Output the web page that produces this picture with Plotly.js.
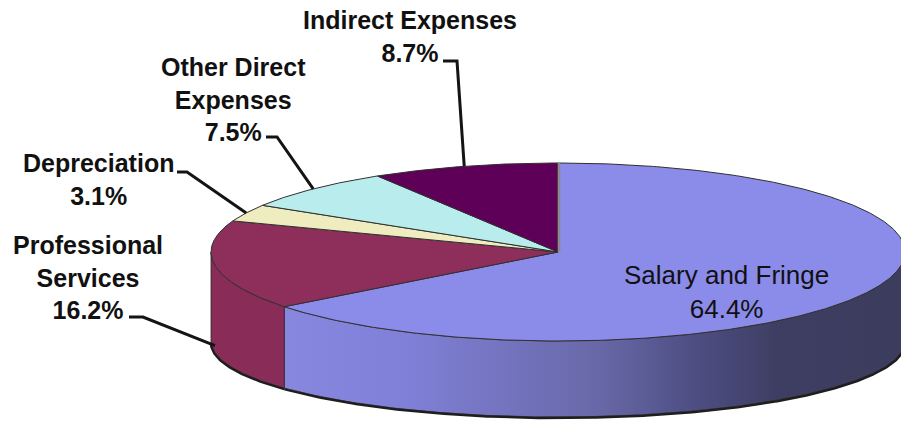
<!DOCTYPE html>
<html><head><meta charset="utf-8">
<script src="https://cdn.plot.ly/plotly-3.0.1.min.js"></script>
<style>html,body{margin:0;padding:0;background:#fff;}#chart{width:901px;height:421px;}</style>
</head><body><div id="chart"></div>
<script>
// ---- data ----
const categories = ['Salary and Fringe','Professional Services','Depreciation','Other Direct Expenses','Indirect Expenses'];
const shares = [64.4, 16.2, 3.1, 7.5, 8.7];
const labelLines = ['Salary and Fringe','Professional<br>Services','Depreciation','Other Direct<br>Expenses','Indirect Expenses'];

// ---- styles ----
const topColors = ['#8b8be9','#8e2e5b','#efedbf','#b9ecec','#5e0058'];
const wallColors = ['#8787e0','#8a2c58','#e6e4b6','#b0e2e2','#560052'];

// ---- geometry (pixel-mapped axes) ----
const cx = 558, cy = 252, rx = 347, ry = 89, depth = 90, ryB = 75;
function topPt(t){ const r = t*Math.PI/180; return [cx + rx*Math.sin(r), cy - ry*Math.cos(r)]; }
function botPt(t){ const r = t*Math.PI/180; return [cx + rx*Math.sin(r), cy + depth - ryB*Math.cos(r)]; }
function arc(a, b, fn){ const n = Math.max(2, Math.ceil(Math.abs(b-a)/0.5)); const pts=[]; for(let i=0;i<=n;i++){ pts.push(fn(a + (b-a)*i/n)); } return pts; }

const total = shares.reduce((s,v)=>s+v,0);
const starts = [], ends = [];
let acc = 0;
shares.forEach(v=>{ starts.push(acc/total*360); acc += v; ends.push(acc/total*360); });

const traces = [];
// side walls (front half only: 90..270 deg)
shares.forEach((v,i)=>{
  const a = Math.max(starts[i], 90), b = Math.min(ends[i], 270);
  if (b <= a) return;
  const top = arc(a, b, topPt), bot = arc(b, a, botPt);
  const pts = top.concat(bot); pts.push(top[0]);
  const tr = {type:'scatter', mode:'lines', x:pts.map(p=>p[0]), y:pts.map(p=>p[1]), fill:'toself',
    fillcolor: wallColors[i], line:{width:0.8, color:'#2a2a2a'}, hoverinfo:'skip', showlegend:false};
  if (i === 0) {
    tr.fillgradient = {type:'horizontal', start:285, stop:901,
      colorscale:[[0,'#8787e0'],[0.19,'#8080d8'],[0.51,'#6868a8'],[0.67,'#4d4d82'],[0.8,'#3e3e63'],[1,'#3c3c5e']]};
  }
  traces.push(tr);
  // dark bottom edge
  const be = arc(a, b, botPt);
  traces.push({type:'scatter', mode:'lines', x:be.map(p=>p[0]), y:be.map(p=>p[1]+1),
    line:{width:2.5, color:'#1e1e1e'}, hoverinfo:'skip', showlegend:false});
});
// top faces
shares.forEach((v,i)=>{
  const pts = [[cx,cy]].concat(arc(starts[i], ends[i], topPt)); pts.push([cx,cy]);
  traces.push({type:'scatter', mode:'lines', x:pts.map(p=>p[0]), y:pts.map(p=>p[1]), fill:'toself',
    fillcolor: topColors[i], line:{width:1, color:'#303030'}, hoverinfo:'skip', showlegend:false});
});
// thin edge at 12 o'clock
(function(){ const p = topPt(starts[0]);
  traces.push({type:'scatter', mode:'lines', x:[cx+1, p[0]+1], y:[cy, p[1]], line:{width:2.5, color:'#8a8a8a'}, hoverinfo:'skip', showlegend:false});
})();

// ---- labels ----
const labelPos = [
  {x:726, y:292, size:26, bold:false},
  {x:88,  y:277, size:25, bold:true, s:[129,317], e:[143,317], wallDrop:80},
  {x:98,  y:179, size:25, bold:true, s:[177,172], e:[187,172], wallDrop:0},
  {x:233, y:99,  size:25, bold:true, s:[266,137], e:[277,137], wallDrop:0},
  {x:410, y:36,  size:25, bold:true, s:[443,61],  e:[457,61],  wallDrop:0}
];
const annotations = [], shapes = [];
shares.forEach((v,i)=>{
  const L = labelPos[i];
  annotations.push({xref:'x', yref:'y', x:L.x, y:L.y, xanchor:'center', yanchor:'middle', showarrow:false,
    text: labelLines[i] + '<br>' + v.toFixed(1) + '%', align:'center',
    font:{family:'Liberation Sans, Arial, sans-serif', size:L.size, color:'#111', weight: L.bold ? 'bold' : 'normal'}});
  if (L.s) {
    const mid = (starts[i] + ends[i]) / 2;
    const tp = topPt(mid);
    const end = [tp[0], tp[1] + L.wallDrop];
    shapes.push({type:'path', xref:'x', yref:'y',
      path:`M ${L.s[0]} ${L.s[1]} L ${L.e[0]} ${L.e[1]} L ${end[0]} ${end[1]}`,
      line:{color:'#141414', width:3}});
  }
});

const layout = {
  width:901, height:421, margin:{l:0,r:0,t:0,b:0},
  paper_bgcolor:'#fff', plot_bgcolor:'#fff', showlegend:false,
  xaxis:{range:[0,901], visible:false, fixedrange:true},
  yaxis:{range:[421,0], visible:false, fixedrange:true},
  annotations, shapes
};
Plotly.newPlot('chart', traces, layout, {displayModeBar:false, staticPlot:true});
</script></body></html>
